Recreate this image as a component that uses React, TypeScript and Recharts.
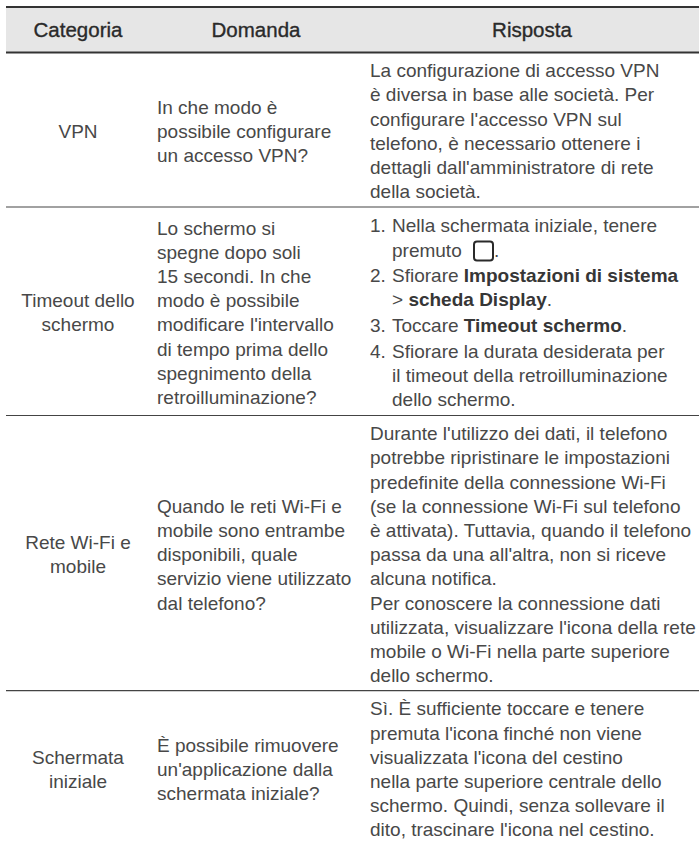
import { ReferenceArea, ReferenceLine, Scatter, ScatterChart, XAxis, YAxis } from "recharts";

const headers = ["Categoria", "Domanda", "Risposta"];

const categories = [
  ["VPN"],
  ["Timeout dello", "schermo"],
  ["Rete Wi-Fi e", "mobile"],
  ["Schermata", "iniziale"],
];

const questions = [
  ["In che modo è", "possibile configurare", "un accesso VPN?"],
  [
    "Lo schermo si",
    "spegne dopo soli",
    "15 secondi. In che",
    "modo è possibile",
    "modificare l'intervallo",
    "di tempo prima dello",
    "spegnimento della",
    "retroilluminazione?",
  ],
  [
    "Quando le reti Wi-Fi e",
    "mobile sono entrambe",
    "disponibili, quale",
    "servizio viene utilizzato",
    "dal telefono?",
  ],
  ["È possibile rimuovere", "un'applicazione dalla", "schermata iniziale?"],
];

// **bold**, "N. " starts a list item, a leading tab continues one, □ is the home key icon
const answers = [
  [
    "La configurazione di accesso VPN",
    "è diversa in base alle società. Per",
    "configurare l'accesso VPN sul",
    "telefono, è necessario ottenere i",
    "dettagli dall'amministratore di rete",
    "della società.",
  ],
  [
    "1. Nella schermata iniziale, tenere",
    "\tpremuto □.",
    "2. Sfiorare **Impostazioni di sistema**",
    "\t> **scheda Display**.",
    "3. Toccare **Timeout schermo**.",
    "4. Sfiorare la durata desiderata per",
    "\til timeout della retroilluminazione",
    "\tdello schermo.",
  ],
  [
    "Durante l'utilizzo dei dati, il telefono",
    "potrebbe ripristinare le impostazioni",
    "predefinite della connessione Wi-Fi",
    "(se la connessione Wi-Fi sul telefono",
    "è attivata). Tuttavia, quando il telefono",
    "passa da una all'altra, non si riceve",
    "alcuna notifica.",
    "Per conoscere la connessione dati",
    "utilizzata, visualizzare l'icona della rete",
    "mobile o Wi-Fi nella parte superiore",
    "dello schermo.",
  ],
  [
    "Sì. È sufficiente toccare e tenere",
    "premuta l'icona finché non viene",
    "visualizzata l'icona del cestino",
    "nella parte superiore centrale dello",
    "schermo. Quindi, senza sollevare il",
    "dito, trascinare l'icona nel cestino.",
  ],
];

const WIDTH = 699;
const HEIGHT = 842;
const LEFT = 6;
const FONT = "'Liberation Sans', Arial, sans-serif";
const INK = "#484848";
const DARK = "#2a2a2a";
const BOLD_INK = "#363636";
const TEXT_SIZE = 19;

const TOP_RULE = 7;
const HEADER_RULE = 52.5;
const rowRules = [207, 415.5, 690.7];
const TABLE_END = 845;
const rowEdges = [HEADER_RULE, ...rowRules, TABLE_END];

const LINE = 24.2;
const ITEM_GAP = 1.5;
const BASELINE_SHIFT = 8;
const INDENT = 22;

const isItem = (line: string) => /^\d\. /.test(line);

function cellLines(rows: string[][], x: number) {
  return rows.flatMap((lines, r) => {
    const gaps = lines.filter((l, i) => i > 0 && isItem(l)).length * ITEM_GAP;
    const blockHeight = (lines.length - 1) * LINE + gaps;
    let y = (rowEdges[r] + rowEdges[r + 1]) / 2 + BASELINE_SHIFT - blockHeight / 2;
    return lines.map((text, i) => {
      if (i > 0) y += LINE + (isItem(text) ? ITEM_GAP : 0);
      return { x, y, text };
    });
  });
}

const headerPoints = [
  { x: 78, y: 37, text: headers[0] },
  { x: 256, y: 37, text: headers[1] },
  { x: 532, y: 37, text: headers[2] },
];

function HeaderLabel(props: any) {
  return (
    <text
      x={props.cx}
      y={props.cy}
      textAnchor="middle"
      fontFamily={FONT}
      fontSize={20.5}
      fill={DARK}
      stroke={DARK}
      strokeWidth={0.35}
    >
      {props.payload.text}
    </text>
  );
}

function CenteredLine(props: any) {
  return (
    <text x={props.cx} y={props.cy} textAnchor="middle" fontFamily={FONT} fontSize={TEXT_SIZE} fill={INK}>
      {props.payload.text}
    </text>
  );
}

function RichLine(props: any) {
  const { cx, cy, payload } = props;
  let body: string = payload.text;
  let marker = "";
  let x = cx;
  if (isItem(body)) {
    marker = body.slice(0, 2);
    body = body.slice(3);
    x += INDENT;
  } else if (body.startsWith("\t")) {
    body = body.slice(1);
    x += INDENT;
  }
  const hasIcon = body.includes("□");
  const parts = body.replace("□", "").split("**");
  return (
    <g fontFamily={FONT} fontSize={TEXT_SIZE} fill={INK}>
      {marker && (
        <text x={cx} y={cy}>
          {marker}
        </text>
      )}
      <text x={x} y={cy}>
        {parts.map((part, i) =>
          hasIcon && i === 0 ? (
            <tspan key={i}>
              {part.slice(0, -1)}
              <tspan dx={27}>{part.slice(-1)}</tspan>
            </tspan>
          ) : (
            <tspan key={i} fontWeight={i % 2 ? 700 : 400} fill={i % 2 ? BOLD_INK : INK}>
              {part}
            </tspan>
          ),
        )}
      </text>
      {hasIcon && (
        <rect x={x + 82} y={cy - 15} width={19} height={19} rx={3} fill="none" stroke={DARK} strokeWidth={2} />
      )}
    </g>
  );
}

export default function App() {
  return (
    <div style={{ position: "absolute", left: 0, top: 0 }}>
      <ScatterChart width={WIDTH} height={HEIGHT} margin={{ top: 0, right: 0, bottom: 0, left: 0 }}>
        <XAxis type="number" dataKey="x" domain={[0, WIDTH]} hide />
        <YAxis type="number" dataKey="y" domain={[0, HEIGHT]} reversed hide />
        <ReferenceArea x1={LEFT} x2={WIDTH} y1={TOP_RULE} y2={HEADER_RULE} fill="#e6e6e6" fillOpacity={1} stroke="none" />
        <ReferenceLine
          segment={[{ x: LEFT, y: TOP_RULE }, { x: WIDTH, y: TOP_RULE }]}
          stroke="#333"
          strokeWidth={2}
        />
        <ReferenceLine
          segment={[{ x: LEFT, y: HEADER_RULE }, { x: WIDTH, y: HEADER_RULE }]}
          stroke="#333"
          strokeWidth={2}
        />
        {rowRules.map((y) => (
          <ReferenceLine
            key={y}
            segment={[{ x: LEFT, y }, { x: WIDTH, y }]}
            stroke="#444"
            strokeWidth={1.2}
          />
        ))}
        <Scatter data={headerPoints} shape={HeaderLabel} isAnimationActive={false} />
        <Scatter data={cellLines(categories, 78)} shape={CenteredLine} isAnimationActive={false} />
        <Scatter data={cellLines(questions, 157)} shape={RichLine} isAnimationActive={false} />
        <Scatter data={cellLines(answers, 370)} shape={RichLine} isAnimationActive={false} />
      </ScatterChart>
    </div>
  );
}
